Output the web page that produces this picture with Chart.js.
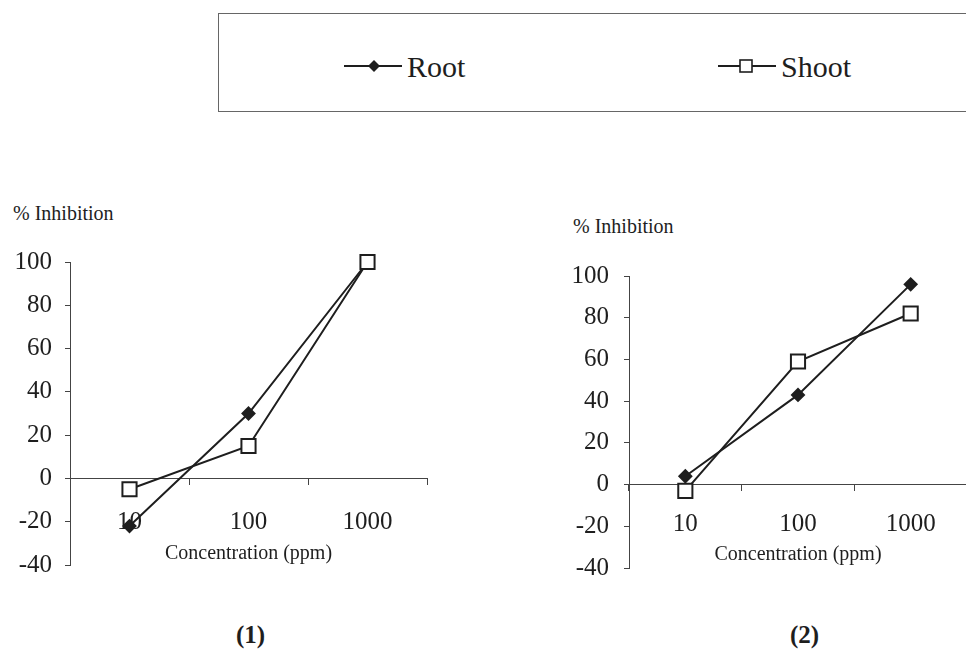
<!DOCTYPE html>
<html>
<head>
<meta charset="utf-8">
<script src="https://cdn.jsdelivr.net/npm/chart.js@4.4.1/dist/chart.umd.min.js"></script>
<style>
  html, body { margin:0; padding:0; width:966px; height:657px; overflow:hidden; background:#fff; }
  body { position:relative; font-family:'Liberation Serif','Times New Roman',serif; color:#1e1e1e; }
  canvas { position:absolute; }
  .lbl { position:absolute; white-space:nowrap; line-height:1; }
  #legend { position:absolute; left:218px; top:13px; width:760px; height:99px; border:1px solid #666; box-sizing:border-box; }
  .item { position:absolute; top:0; height:99px; }
  .item svg { position:absolute; }
  .item span { position:absolute; font-size:30px; line-height:1; white-space:nowrap; }
</style>
</head>
<body>
<div id="legend"></div>
<div class="lbl" style="left:13px; top:203px; font-size:20px;">% Inhibition</div>
<div class="lbl" style="left:573px; top:216px; font-size:20px;">% Inhibition</div>
<div class="lbl" style="left:236px; top:622px; font-size:25px; font-weight:bold;">(1)</div>
<div class="lbl" style="left:790px; top:622px; font-size:25px; font-weight:bold;">(2)</div>
<canvas id="c1" width="470" height="363" style="left:0px; top:230px;"></canvas>
<canvas id="c2" width="459" height="368" style="left:520px; top:230px;"></canvas>
<script>
// ---- data ----
const categories = ['10', '100', '1000'];
const yTicks = [-40, -20, 0, 20, 40, 60, 80, 100];
const seriesNames = ['Root', 'Shoot'];
const root1 = [-22, 30, 100];
const shoot1 = [-5, 15, 100];
const root2 = [4, 43, 96];
const shoot2 = [-3, 59, 82];
const xTitle = 'Concentration (ppm)';

Chart.defaults.font.family = "'Liberation Serif','Times New Roman',serif";
Chart.defaults.color = '#1e1e1e';
const INK = '#1e1e1e';

function makeChart(id, rootData, shootData, cfg) {
  return new Chart(document.getElementById(id), {
    type: 'line',
    data: {
      labels: categories,
      datasets: [
        { label: seriesNames[0], data: rootData, order: 1, borderColor: INK, borderWidth: 2,
          pointStyle: 'rectRot', pointRadius: 6, pointBackgroundColor: INK, pointBorderColor: INK,
          tension: 0, clip: false },
        { label: seriesNames[1], data: shootData, order: 0, borderColor: INK, borderWidth: 2,
          pointStyle: 'rect', pointRadius: 10, pointBackgroundColor: '#fff', pointBorderColor: INK,
          pointBorderWidth: 2, tension: 0, clip: false }
      ]
    },
    options: {
      responsive: false,
      animation: false,
      devicePixelRatio: 1,
      layout: { padding: { left: 0, right: cfg.padRight, top: cfg.padTop, bottom: 0 } },
      plugins: { legend: { display: false }, tooltip: { enabled: false } },
      scales: {
        y: {
          position: 'left',
          min: -40, max: 100,
          afterBuildTicks: s => { s.ticks = yTicks.map(v => ({ value: v })); },
          afterFit: s => { s.width = cfg.yWidth; },
          ticks: { font: { size: 25 }, padding: cfg.yPad, color: INK },
          grid: { drawOnChartArea: false, drawTicks: true, tickLength: 5, color: '#444' },
          border: { display: true, color: '#444', width: 1 }
        },
        x: {
          type: 'category',
          position: { y: 0 },
          offset: true,
          afterFit: s => { s.height = cfg.xHeight; },
          ticks: { font: { size: 25 }, padding: cfg.xPad, color: INK, maxRotation: 0, autoSkip: false },
          grid: { offset: true, drawOnChartArea: false, drawTicks: true, tickLength: 6, color: '#444' },
          border: { display: true, color: '#444', width: 1 },
          title: { display: true, text: xTitle, font: { size: 20 }, padding: 0, color: INK }
        }
      }
    }
  });
}

makeChart('c1', root1, shoot1, { padRight: 43, padTop: 32, yWidth: 70, yPad: 13, xPad: 23, xHeight: 87 });
makeChart('c2', root2, shoot2, { padRight: 0, padTop: 46, yWidth: 109, yPad: 15, xPad: 19, xHeight: 82 });

// ---- legend (HTML) ----
const legend = document.getElementById('legend');
const legendItems = [
  { name: seriesNames[0], left: 125, marker: 'diamond' },
  { name: seriesNames[1], left: 499, marker: 'square' }
];
legendItems.forEach(it => {
  const d = document.createElement('div');
  d.className = 'item';
  d.style.left = it.left + 'px';
  let m = '';
  if (it.marker === 'diamond') {
    m = '<polygon points="30,46 36,52 30,58 24,52" fill="' + INK + '"/>';
  } else {
    m = '<rect x="22" y="46" width="12" height="12" fill="#fff" stroke="' + INK + '" stroke-width="1.6"/>';
  }
  d.innerHTML = '<svg width="60" height="99" style="left:0;top:0">' +
    '<line x1="0" y1="52" x2' + '="58" y2="52" stroke="' + INK + '" stroke-width="2"/>' + m + '</svg>' +
    '<span style="left:63px; top:38px;">' + it.name + '</span>';
  legend.appendChild(d);
});
</script>
</body>
</html>
